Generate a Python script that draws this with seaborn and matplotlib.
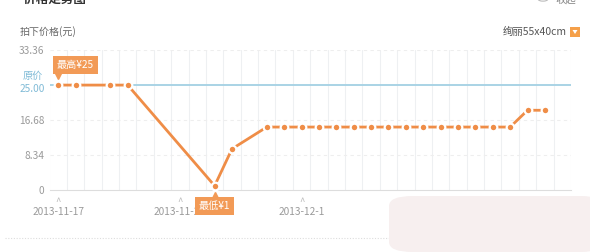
import matplotlib
matplotlib.use("Agg")
import matplotlib.pyplot as plt
import matplotlib.dates as mdates
import matplotlib.transforms as mtransforms
from matplotlib.patches import FancyBboxPatch, Polygon
import seaborn as sns
import pandas as pd
import numpy as np

# ---- data ----
dates = ["2013-11-17", "2013-11-18", "2013-11-20", "2013-11-21", "2013-11-26",
         "2013-11-27", "2013-11-29", "2013-11-30", "2013-12-01", "2013-12-02",
         "2013-12-03", "2013-12-04", "2013-12-05", "2013-12-06", "2013-12-07",
         "2013-12-08", "2013-12-09", "2013-12-10", "2013-12-11", "2013-12-12",
         "2013-12-13", "2013-12-14", "2013-12-15"]
prices = [25, 25, 25, 25, 1, 9.8, 15, 15, 15, 15, 15, 15, 15, 15, 15, 15, 15,
          15, 15, 15, 15, 19, 19]
original_price = 25.00
y_ticks = [0, 8.34, 16.68, 25.00, 33.36]
y_tick_labels = ["0", "8.34", "16.68", "25.00", "33.36"]
x_tick_dates = ["2013-11-17", "2013-11-24", "2013-12-01"]
x_tick_labels = ["2013-11-17", "2013-11-24", "2013-12-1"]
max_label = "最高¥25"
min_label = "最低¥1"

sns.set_style("white")
plt.rcParams['font.family'] = ['Noto Sans CJK SC', 'DejaVu Sans']

df = pd.DataFrame({"date": pd.to_datetime(dates), "price": prices})

W, H = 590, 252
fig = plt.figure(figsize=(W / 100, H / 100), dpi=100)
fig.patch.set_facecolor("white")

L, R, B, T = 50, 571, 190, 50
ax = fig.add_axes([L / W, 1 - B / H, (R - L) / W, (B - T) / H])

orange = "#ef8d47"
blue = "#a9d3e5"
gray = "#9a9a9a"

start = pd.Timestamp("2013-11-17")
x0 = mdates.date2num(start)
ax.set_xlim(x0 - 0.47, x0 + 29.5)
ax.set_ylim(0, 33.36)

# vertical grid lines between days
for k in range(0, 31):
    ax.axvline(x0 - 0.5 + k, color="#eef0f2", lw=0.8, zorder=0)
for yv in [8.34, 16.68, 33.36]:
    ax.axhline(yv, color="#eeeeee", lw=0.8, ls=(0, (3, 3)), zorder=0)

ax.axhline(original_price, color=blue, lw=1.4, zorder=1)

sns.lineplot(data=df, x="date", y="price", ax=ax, color=orange, lw=2,
             marker="o", markersize=5.5, markeredgecolor="white",
             markeredgewidth=1.6, zorder=3, legend=False)

for s in ["top", "right", "left"]:
    ax.spines[s].set_visible(False)
ax.spines["bottom"].set_color("#dddddd")
ax.spines["bottom"].set_linewidth(0.8)

ax.set_yticks(y_ticks)
ax.set_yticklabels(y_tick_labels)
ax.tick_params(axis="y", length=0, pad=4, labelsize=7.3, labelcolor=gray)
for lbl in ax.get_yticklabels():
    if lbl.get_text() == "25.00":
        lbl.set_color("#7fbad6")
        lbl.set_transform(lbl.get_transform() +
                          mtransforms.ScaledTranslation(0, -3 / 100, fig.dpi_scale_trans))

xt = [mdates.date2num(pd.Timestamp(d)) for d in x_tick_dates]
ax.set_xticks(xt)
ax.set_xticklabels(x_tick_labels)
ax.tick_params(axis="x", length=0, pad=12.5, labelsize=7.3, labelcolor=gray)
ax.set_xlabel("")
ax.set_ylabel("")
for x in xt:
    ax.annotate("^", xy=(x, 0), xycoords="data", xytext=(0, -12),
                textcoords="offset points", ha="center", va="bottom",
                fontsize=7, color="#bbbbbb")

# 原价 label
ax.annotate("原价", xy=(0, original_price), xycoords=("axes fraction", "data"),
            xytext=(-5, 6.5), textcoords="offset points", ha="right", va="center",
            fontsize=7.3, color="#7fbad6")

# max / min annotations
imax = int(np.argmax(prices))
imin = int(np.argmin(prices))
xmax = mdates.date2num(df["date"][imax])
xmin = mdates.date2num(df["date"][imin])
ax.annotate(max_label, xy=(xmax, prices[imax]), xytext=(-1, 14.5),
            textcoords="offset points", ha="left", va="center", fontsize=7.3,
            color="white", zorder=6, annotation_clip=False,
            bbox=dict(boxstyle="square,pad=0.4", fc="#f29a56", ec="none"))
ax.plot([xmax], [prices[imax]], marker="v", markersize=5, color="#f29a56",
        transform=ax.transData + mtransforms.ScaledTranslation(0, 6.5 / 72, fig.dpi_scale_trans),
        clip_on=False, zorder=6)

ax.annotate(min_label, xy=(xmin, 0), xytext=(0, -11.5),
            textcoords="offset points", ha="center", va="center", fontsize=7.3,
            color="white", zorder=6, annotation_clip=False,
            bbox=dict(boxstyle="square,pad=0.4", fc="#f29a56", ec="none"))
ax.plot([xmin], [0], marker="^", markersize=5, color="#f29a56",
        transform=ax.transData + mtransforms.ScaledTranslation(0, -3.5 / 72, fig.dpi_scale_trans),
        clip_on=False, zorder=6)

# header texts
fig.text(20 / W, 1 - 32 / H, "拍下价格(元)", fontsize=7.2, color="#666666",
         ha="left", va="center")
fig.text(567 / W, 1 - 32 / H, "绚丽55x40cm", fontsize=7.5, color="#555555",
         ha="right", va="center")
fig.patches.append(FancyBboxPatch((570 / W, 1 - 37 / H), 10 / W, 10 / H,
                                  boxstyle="square,pad=0", fc="#f5a04a", ec="none",
                                  transform=fig.transFigure, figure=fig))
fig.patches.append(Polygon([[572.5 / W, 1 - 30 / H], [577.5 / W, 1 - 30 / H],
                            [575 / W, 1 - 34 / H]], closed=True, fc="white",
                           ec="none", transform=fig.transFigure, figure=fig))
fig.text(8 / W, 1 + 1 / H, "· 价格走势图", fontsize=9, color="#333333",
         ha="left", va="center", fontweight="bold")
fig.text(555 / W, 1 + 1 / H, "收起", fontsize=7.5, color="#888888",
         ha="left", va="center")
fig.patches.append(plt.Circle((543 / W, 1 + 1 / H), 5 / W, fc="none", ec="#bbbbbb",
                              lw=0.8, transform=fig.transFigure, figure=fig))

# bottom dotted separator
fig.lines.append(matplotlib.lines.Line2D([5 / W, 590 / W], [1 - 238 / H, 1 - 238 / H],
                                         color="#dddddd", lw=0.8, ls=(0, (1, 1.5)),
                                         transform=fig.transFigure, figure=fig))
# pale blob bottom right
fig.patches.append(FancyBboxPatch((389 / W, 1 - 252 / H), 215 / W, 56 / H,
                                  boxstyle="round,pad=0,rounding_size=0.04",
                                  fc="#f7efef", ec="none",
                                  transform=fig.transFigure, figure=fig, zorder=5))

fig.savefig("out.png", dpi=100, facecolor="white")
